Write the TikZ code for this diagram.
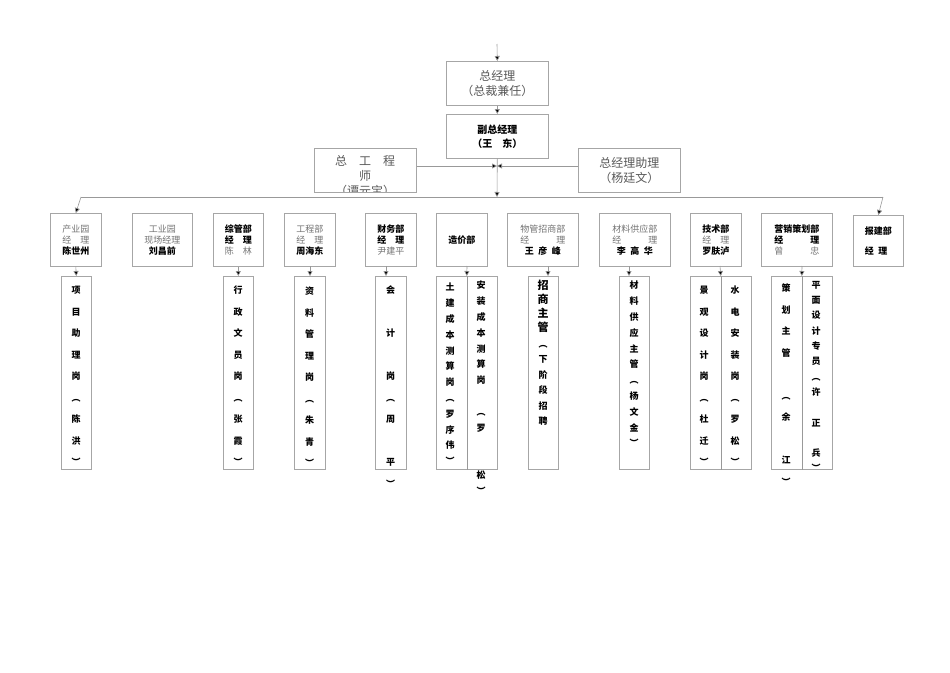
\documentclass[tikz,border=0pt]{standalone}
\usepackage{fontspec}
\newfontfamily\cjk{Noto Sans CJK SC}
\usetikzlibrary{arrows.meta}
\begin{document}
\begin{tikzpicture}[x=1pt,y=-1pt,
  box/.style={draw=black!35,line width=0.6pt,anchor=north west,inner sep=0pt},
  ln/.style={draw=black!40,line width=0.6pt},
  arr/.style={ln,-{Triangle[length=5pt,width=5pt,fill=black]}},
  t2/.style={font=\cjk\fontsize{9}{11}\selectfont,align=center,inner sep=0pt},
  vcol/.style={font=\cjk\bfseries\fontsize{9}{#1}\selectfont,align=center,inner sep=0pt,anchor=north},
  lg/.style={black!55}]
\useasboundingbox (0,0) rectangle (950,672);
\fill[white] (0,0) rectangle (950,672);
% top
\node[box,minimum width=102pt,minimum height=44pt] (gm) at (446,61) {};
\node[font=\cjk\fontsize{12}{15}\selectfont,align=center,black!65] at (gm.center) {总经理\\（总裁兼任）};
\node[box,minimum width=102pt,minimum height=44pt] (vgm) at (446,114) {};
\node[font=\cjk\bfseries\fontsize{10}{14}\selectfont,align=center] at (vgm.center) {副总经理\\（王\quad 东）};
\node[box,minimum width=102pt,minimum height=44pt] (ce) at (314,148) {};
\begin{scope}
\clip (314,148) rectangle (416,191);
\node[font=\cjk\fontsize{12}{15}\selectfont,align=center,black!65,anchor=north] at (365,152) {总\quad 工\quad 程\\师\\（谭元宝）};
\end{scope}
\node[box,minimum width=102pt,minimum height=44pt] (as) at (578,148) {};
\node[font=\cjk\fontsize{12}{15}\selectfont,align=center,black!65] at (as.center) {总经理助理\\（杨廷文）};
\coordinate (top) at (497,44);
\coordinate (mid) at (497,166);
\coordinate (bus) at (497,197);
\draw[arr] (top) -- (gm.north);
\draw[arr] (gm.south) -- (vgm.north);
\draw[arr] (vgm.south) -- (bus);
\draw[arr] (ce.east |- mid) -- (mid);
\draw[arr] (as.west |- mid) -- (mid);
\draw[ln] (81,197) -- (883,197);
% second row
\foreach \n/\x/\w in {a/50/51,b/132/60,c/213/50,d/284/51,e/365/51,f/436/51,g/507/71,h/599/71,i/690/51,j/761/71}
  {\node[box,minimum width=\w pt,minimum height=53pt] (\n) at (\x,213) {};}
\node[box,minimum width=50pt,minimum height=51pt] (k) at (853,215) {};
\draw[arr] (81,197) -- (a.north);
\draw[arr] (883,197) -- (k.north);
\node[t2] at (a.center) {\textcolor{black!55}{产业园}\\\textcolor{black!55}{经\quad 理}\\\textbf{陈世州}};
\node[t2] at (b.center) {\textcolor{black!55}{工业园}\\\textcolor{black!55}{现场经理}\\\textbf{刘昌前}};
\node[t2] at (c.center) {\textbf{综管部}\\\textbf{经\quad 理}\\\textcolor{black!55}{陈\quad 林}};
\node[t2] at (d.center) {\textcolor{black!55}{工程部}\\\textcolor{black!55}{经\quad 理}\\\textbf{周海东}};
\node[t2] at (e.center) {\textbf{财务部}\\\textbf{经\quad 理}\\\textcolor{black!55}{尹建平}};
\node[t2] at (f.center) {\textbf{造价部}};
\node[t2] at (g.center) {\textcolor{black!55}{物管招商部}\\\textcolor{black!55}{经\qquad\quad 理}\\\textbf{王\enspace 彦\enspace 峰}};
\node[t2] at (h.center) {\textcolor{black!55}{材料供应部}\\\textcolor{black!55}{经\qquad\quad 理}\\\textbf{李\enspace 高\enspace 华}};
\node[t2] at (i.center) {\textbf{技术部}\\\textcolor{black!55}{经\quad 理}\\\textbf{罗肤泸}};
\node[t2] at (j.center) {\textbf{营销策划部}\\\textbf{经\qquad\quad 理}\\\textcolor{black!55}{曾\qquad\quad 忠}};
\node[font=\cjk\bfseries\fontsize{9}{20}\selectfont,align=left] at (k.center) {报建部\\经\enspace 理};
% third row
\foreach \n/\x/\w in {A/61/30,C/223/30,D/294/31,E/375/31,F/436/61,G/528/30,H/619/30,I/690/61,J/771/61}
  {\node[box,minimum width=\w pt,minimum height=193pt] (\n) at (\x,276) {};}
\draw[ln] (F.north) -- (F.south);
\draw[ln] (I.north) -- (I.south);
\draw[ln] (J.north) -- (J.south);
\draw[arr] (a.south) -- (A.north);
\draw[arr] (c.south -| C.north) -- (C.north);
\draw[arr] (310,266) -- (310,276);
\draw[arr] (386,266) -- (386,276);
\draw[arr] (467,266) -- (F.north);
\draw[arr] (548,266) -- (548,276);
\draw[arr] (629,266) -- (629,276);
\draw[arr] (720,266) -- (I.north);
\draw[arr] (802,266) -- (J.north);
\node[vcol=21.5] at (76,286) {项\\目\\助\\理\\岗\\︵\\陈\\洪\\︶};
\node[vcol=21.5] at (238,286) {行\\政\\文\\员\\岗\\︵\\张\\霞\\︶};
\node[vcol=21.5] at (309.5,287) {资\\料\\管\\理\\岗\\︵\\朱\\青\\︶};
\node[vcol=21.5] at (390.5,286) {会\\\\计\\\\岗\\︵\\周\\\\平\\︶};
\node[vcol=15.8] at (450,283) {土\\建\\成\\本\\测\\算\\岗\\︵\\罗\\序\\伟\\︶};
\node[vcol=15.8] at (481,281) {安\\装\\成\\本\\测\\算\\岗\\\\︵\\罗\\\\\\松\\︶};
\node[font=\cjk\bfseries\fontsize{11}{14}\selectfont,align=center,inner sep=0pt,anchor=north] (Gt) at (543,280) {招\\商\\主\\管};
\node[vcol=15.5] at (543,345) {︵\\下\\阶\\段\\招\\聘};
\node[vcol=15.8] at (634,281) {材\\料\\供\\应\\主\\管\\︵\\杨\\文\\金\\︶};
\node[vcol=21.5] at (704,286) {景\\观\\设\\计\\岗\\︵\\杜\\迁\\︶};
\node[vcol=21.5] at (735,286) {水\\电\\安\\装\\岗\\︵\\罗\\松\\︶};
\node[vcol=21.5] at (786,284) {策\\划\\主\\管\\\\︵\\余\\\\江\\︶};
\node[vcol=15.3] at (816,281) {平\\面\\设\\计\\专\\员\\︵\\许\\\\正\\\\兵\\︶};
\end{tikzpicture}
\end{document}
